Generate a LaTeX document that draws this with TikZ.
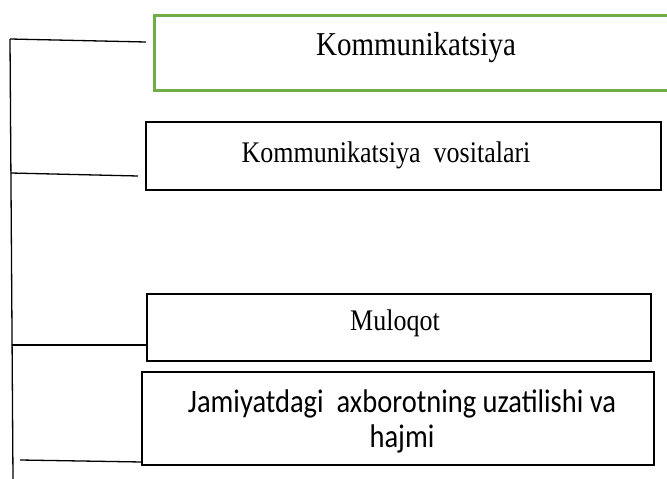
\documentclass[tikz,border=0pt]{standalone}
\usepackage{fontspec}
\setmainfont{Liberation Serif}
\newfontfamily\calibrifont{Carlito}
\newcommand{\talltext}[1]{\scalebox{1}[1.15]{#1}}
\definecolor{leafgreen}{RGB}{112,173,71}
\begin{document}
\begin{tikzpicture}[x=1pt,y=-1pt,
  every node/.style={inner sep=0pt, outer sep=0pt},
  plainbox/.style={draw=black, line width=1.4pt, anchor=north west},
  openbox/.style={anchor=north west},
  greenedge/.style={draw=leafgreen, line width=3pt},
  link/.style={draw=black, line width=1.3pt}]
\useasboundingbox (0,0) rectangle (667,479);
\clip (0,0) rectangle (667,479);

% first box: it runs past the right margin, so only three sides are drawn
\node[openbox, minimum width=540pt, minimum height=75pt] (b1) at (154,15) {};
\draw[greenedge] (b1.north east) -- (b1.north west) -- (b1.south west) -- (b1.south east);
\node[font=\fontsize{29}{32}\selectfont] (t1) at (416,48) {\talltext{Kommunikatsiya}};

\node[plainbox, minimum width=515pt, minimum height=68pt] (b2) at (146,122) {};
\node[font=\fontsize{26}{30}\selectfont] (t2) at (386,155) {\talltext{Kommunikatsiya\ \ vositalari}};

\node[plainbox, minimum width=504pt, minimum height=67pt] (b3) at (147,294) {};
\node[font=\fontsize{26}{30}\selectfont] (t3) at (395,323) {\talltext{Muloqot}};

\node[plainbox, minimum width=512pt, minimum height=93pt] (b4) at (142,372) {};
\node[font=\calibrifont\fontsize{28.5}{35}\selectfont, align=center] (t4) at (402,421)
  {\talltext{Jamiyatdagi\ \ axborotning uzatilishi va}\\\talltext{hajmi}};

% trunk line and branches
\coordinate (top) at (10,39);
\coordinate (bot) at (13,479);
\draw[link] (top) -- (bot);

\coordinate (e1) at (146,42);
\coordinate (s2) at (10.6,173);
\coordinate (e2) at (138,176);
\coordinate (s3) at (11.6,345);
\coordinate (s4) at (20,460);

\draw[link] (top) -- (e1);
\draw[link] (s2) -- (e2);
\draw[link] (s3) -- (b3.west |- s3);
\draw[link] (s4) -- (b4.west |- 0,462);
\end{tikzpicture}
\end{document}
